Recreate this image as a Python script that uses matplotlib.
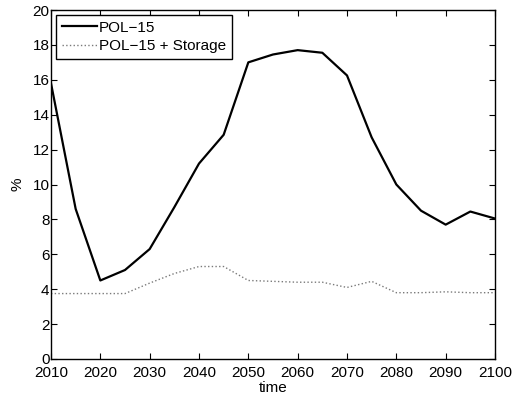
import matplotlib
matplotlib.use("Agg")
import matplotlib.pyplot as plt

plt.rcParams["font.family"] = ["Liberation Sans", "DejaVu Sans"]

years = [2010, 2015, 2020, 2025, 2030, 2035, 2040, 2045, 2050, 2055,
         2060, 2065, 2070, 2075, 2080, 2085, 2090, 2095, 2100]
pol15 = [15.8, 8.6, 4.5, 5.1, 6.3, 8.7, 11.2, 12.85, 17.0, 17.45,
         17.7, 17.55, 16.25, 12.7, 10.0, 8.5, 7.7, 8.45, 8.05]
pol15_storage = [3.75, 3.75, 3.75, 3.75, 4.35, 4.9, 5.3, 5.3, 4.5, 4.45,
                 4.4, 4.4, 4.1, 4.45, 3.8, 3.8, 3.85, 3.8, 3.8]

fig = plt.figure(figsize=(5.13, 3.99), dpi=100)
ax = fig.add_axes([51 / 513, 40 / 399, 444 / 513, 349 / 399])

ax.plot(years, pol15, color="black", linewidth=1.6, label="POL\u221215")
ax.plot(years, pol15_storage, color="#7a7a7a", linestyle=":", linewidth=1.0,
        label="POL\u221215 + Storage")

ax.set_xlim(2010, 2100)
ax.set_ylim(0, 20)
ax.set_xticks(range(2010, 2101, 10))
ax.set_yticks(range(0, 21, 2))
ax.tick_params(direction="in", labelsize=11, length=4, width=0.8,
               top=True, right=True)
ax.tick_params(axis="x", pad=5)
ax.tick_params(axis="y", pad=1)
for spine in ax.spines.values():
    spine.set_linewidth(1.0)
ax.set_xlabel("time", fontsize=11, labelpad=1)
ax.set_ylabel("%", fontsize=11, labelpad=6)

leg = ax.legend(loc="upper left", fontsize=11, fancybox=False, framealpha=1,
                edgecolor="black", borderaxespad=0.3, handlelength=2.3,
                handletextpad=0.15, borderpad=0.4, labelspacing=0.3)
leg.get_frame().set_linewidth(1.0)

fig.savefig("out.png", dpi=100)
